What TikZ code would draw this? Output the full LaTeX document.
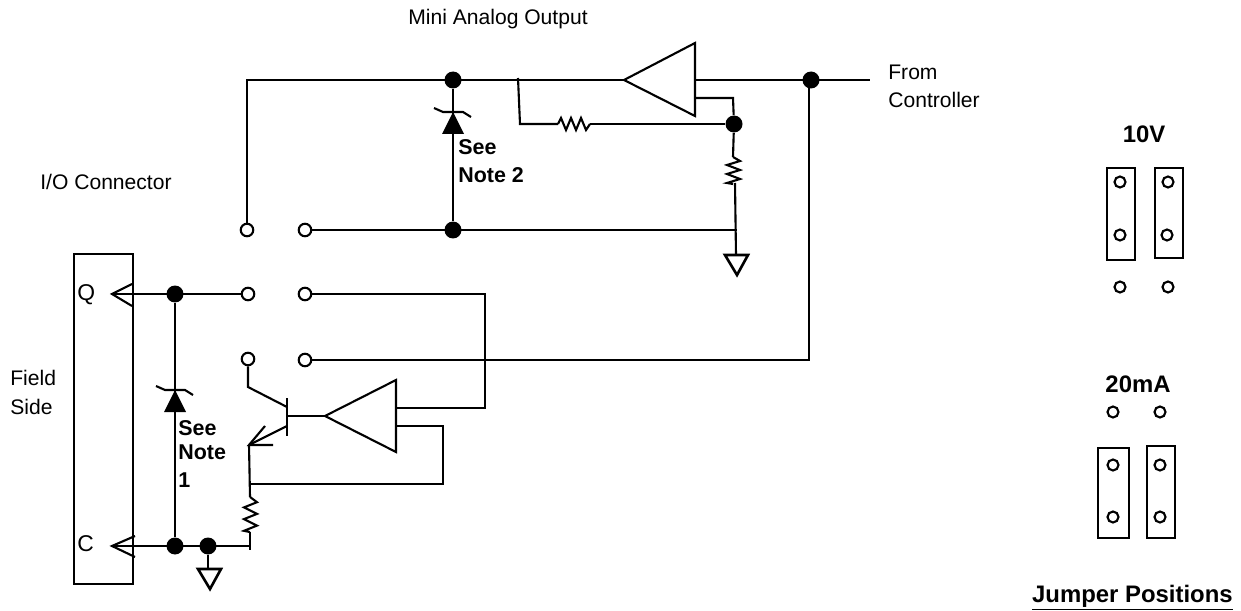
\documentclass[tikz,border=0pt]{standalone}
\usepackage{fontspec}
\setmainfont{Liberation Sans}
\usepackage{tikz}
\usetikzlibrary{calc}
\tikzset{
	wire/.style={line width=1.2pt},
	jdot/.style={circle,fill=black,inner sep=0pt,minimum size=0.34cm},
	pin/.style={circle,draw,fill=white,line width=1.2pt,inner sep=0pt,minimum size=0.25cm},
	jpin/.style={pin,minimum size=0.22cm},
	lbl/.style={anchor=west,inner sep=0pt,font=\fontsize{12}{14}\selectfont},
	boldlbl/.style={lbl,font=\fontsize{12.2}{14}\selectfont\bfseries},
	headlbl/.style={anchor=center,inner sep=0pt,font=\fontsize{13.6}{16}\selectfont\bfseries},
	pinlbl/.style={lbl,font=\fontsize{13}{15}\selectfont},
}
\def\reshoriz(#1,#2){\draw[wire] (#1,#2) -- ++(3,-6) -- ++(5,12) -- ++(5,-12) -- ++(5,12) -- ++(5,-12) -- ++(5,12) -- ++(4,-6);}
\def\resvert(#1,#2)(#3){\draw[wire,shift={(#1,#2)},yscale=#3] (0,0) -- (7,4) -- (-6,8) -- (7,13) -- (-6,17) -- (7,22) -- (-6,26) -- (0,27);}
\def\zener(#1,#2){\fill (#1,#2) -- ++(11,22) -- ++(-22,0) -- cycle;
	\draw[wire] ($(#1,#2)+(-19,-4)$) -- ++(9,4) -- ++(20,0) -- ++(8,5);}
\def\groundsym(#1,#2){\draw[line width=1.5pt,line join=miter] (#1,#2) -- ++(23,0) -- ++(-11,20) -- cycle;}

\begin{document}
\begin{tikzpicture}[x=0.02cm,y=-0.02cm]
		\useasboundingbox (0,0) rectangle (1241,611);
		%%%%% labels %%%%%
		\node[lbl] (title) at (408,19) {Mini Analog Output};
		\node[lbl] (from) at (888,72) {From};
		\node[lbl] (ctrl) at (888,100) {Controller};
		\node[lbl] (io) at (40,182) {I/O Connector};
		\node[lbl] (field) at (10,378) {Field};
		\node[lbl] (side) at (10,407) {Side};
		\node[boldlbl] (see2) at (458,147) {See};
		\node[boldlbl] (note2) at (458,175) {Note 2};
		\node[boldlbl] (see1) at (178,428) {See};
		\node[boldlbl] (note1) at (178,452) {Note};
		\node[boldlbl] (one) at (178,480) {1};
		\node[pinlbl] (q) at (77,295) {Q};
		\node[pinlbl] (c) at (77,544) {C};
		\node[headlbl] (ten) at (1144,134) {10V};
		\node[headlbl] (twenty) at (1138,384) {20mA};
		\node[headlbl,anchor=east] (jump) at (1233,598) {\underline{Jumper Positions}};

		%%%%% top amplifier %%%%%
		\coordinate (railL) at (247,80);
		\coordinate (ampTtip) at (624,80);
		\coordinate (ampTout) at (695,80);
		\coordinate (ampTfb) at (695,98);
		\coordinate (fbcorner) at (733,98);
		\coordinate (railR) at (870,80);
		\coordinate (tapT) at (518,78);
		\coordinate (tapB) at (520,124);
		\coordinate (resTr) at (590,124);
		\coordinate (resVt) at (733,157);
		\coordinate (resVb) at (735,183);
		\coordinate (gndT) at (736,255);
		\coordinate (railEnd) at (737,230);
		\node[jdot] (j1) at (453,80) {};
		\node[jdot] (j2) at (453,230) {};
		\node[jdot] (j3) at (734,124) {};
		\node[jdot] (j4) at (811,80) {};
		\node[pin] (p1) at (247,230) {};
		\node[pin] (p2) at (305,230) {};
		\node[pin] (p3) at (248,294) {};
		\node[pin] (p4) at (305,294) {};
		\node[pin] (p5) at (248,359) {};
		\node[pin] (p6) at (305,360) {};

		\draw[wire] (p1) -- (railL) -- (ampTtip);
		\draw[wire] (ampTtip) -- (695,43) -- (695,116) -- cycle;
		\draw[wire] (ampTout) -- (railR);
		\draw[wire] (j1) -- (j2);
		\zener(453,112)
		\draw[wire] (p2) -- (railEnd);
		\draw[wire] (tapT) -- (tapB) -- (558,124);
		\reshoriz(558,124)
		\draw[wire] (resTr) -- (j3);
		\draw[wire] (ampTfb) -- (fbcorner) -- (j3);
		\draw[wire] (j3) -- (resVt);
		\resvert(733,157)(1)
		\draw[wire] (resVb) -- (gndT);
		\groundsym(725,255)
		\draw[wire] (809,80) -- (809,360) -- (p6);

		%%%%% connector block %%%%%
		\coordinate (boxA) at (74,254);
		\coordinate (boxB) at (133,584);
		\draw[wire] (boxA) rectangle (boxB);
		\coordinate (qtip) at (112,294);
		\coordinate (ctip) at (112,546);
		\coordinate (cend) at (250,546);
		\node[jdot] (j5) at (175,294) {};
		\node[jdot] (j6) at (175,546) {};
		\node[jdot] (j7) at (208,546) {};
		\draw[wire] (132,284) -- (qtip) -- (132,306);
		\draw[wire] (135,536) -- (ctip) -- (135,557);
		\draw[wire] (qtip) -- (p3);
		\draw[wire] (ctip) -- (cend);
		\draw[wire] (j5) -- (j6);
		\zener(175,390)
		\coordinate (gndB) at (208,569);
		\draw[wire] (j7) -- (gndB);
		\groundsym(198,569)

		%%%%% lower amplifier %%%%%
		\coordinate (ampBtip) at (325,416);
		\coordinate (baseC) at (287,416);
		\coordinate (outC) at (287,407);
		\coordinate (outE) at (287,426);
		\coordinate (colK) at (248,387);
		\coordinate (emit) at (249,445);
		\coordinate (resBt) at (250,497);
		\coordinate (fbJ) at (250,484);
		\draw[wire] (ampBtip) -- (396,380) -- (396,452) -- cycle;
		\draw[wire] (baseC) -- (ampBtip);
		\draw[wire] (287,398) -- (287,436);
		\draw[wire] (p5) -- (colK) -- (outC);
		\draw[wire] (outE) -- (emit);
		\draw[wire] (265,426) -- (emit) -- (273,445);
		\draw[wire] (emit) -- (resBt);
		\resvert(250,497)(1.3)
		\draw[wire] (250,532) -- (250,550);
		\draw[wire] (fbJ) -- (443,484) -- (443,426) -- (396,426);
		\draw[wire] (p4) -- (485,294) -- (485,408) -- (395,408);

		%%%%% 10V jumper %%%%%
		\draw[wire] (1107,168) rectangle (1135,260);
		\draw[wire] (1155,168) rectangle (1183,258);
		\node[jpin] (a1) at (1120,182) {};
		\node[jpin] (a2) at (1168,182) {};
		\node[jpin] (a3) at (1120,235) {};
		\node[jpin] (a4) at (1167,235) {};
		\node[jpin] (a5) at (1120,287) {};
		\node[jpin] (a6) at (1168,287) {};

		%%%%% 20mA jumper %%%%%
		\draw[wire] (1098,448) rectangle (1129,538);
		\draw[wire] (1147,446) rectangle (1175,538);
		\node[jpin] (b1) at (1113,412) {};
		\node[jpin] (b2) at (1160,412) {};
		\node[jpin] (b3) at (1113,465) {};
		\node[jpin] (b4) at (1160,465) {};
		\node[jpin] (b5) at (1113,517) {};
		\node[jpin] (b6) at (1160,517) {};
	\end{tikzpicture}
\end{document}
